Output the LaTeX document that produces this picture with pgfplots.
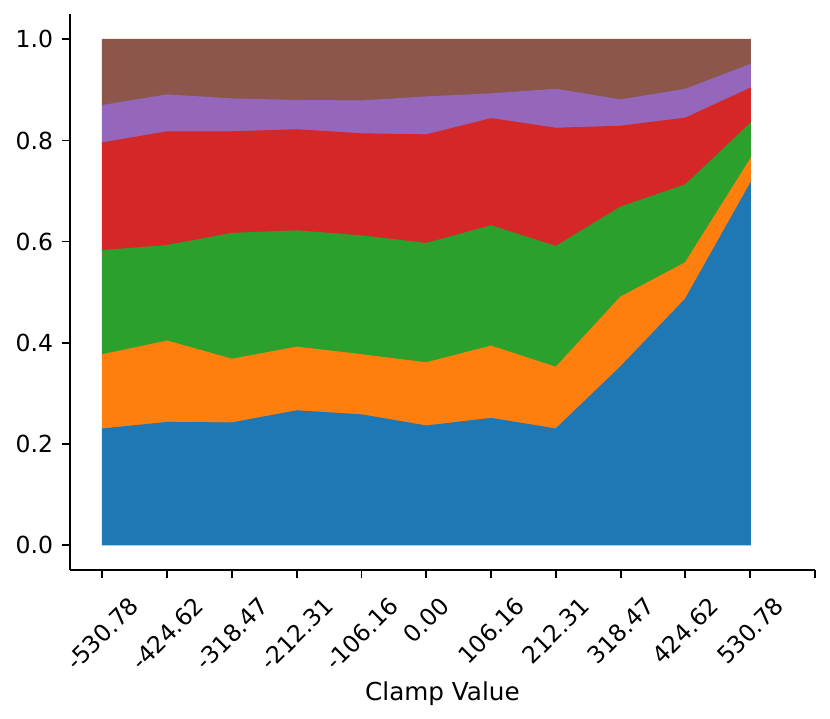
\documentclass[border=0pt]{standalone}
\usepackage{pgfplots}
\pgfplotsset{compat=1.18}
\usepackage{pgfplotstable}
\usepackage{graphicx}
\usepackage{fontspec}
\setmainfont{DejaVu Sans}
\definecolor{c1}{HTML}{1F77B4}
\definecolor{c2}{HTML}{FF7F0E}
\definecolor{c3}{HTML}{2CA02C}
\definecolor{c4}{HTML}{D62728}
\definecolor{c5}{HTML}{9467BD}
\definecolor{c6}{HTML}{8C564B}
\pgfplotstableread{
x a b c d e f
0 0.229 0.147 0.206 0.213 0.074 0.131
1 0.242 0.161 0.189 0.225 0.073 0.110
2 0.241 0.126 0.249 0.201 0.065 0.118
3 0.265 0.126 0.230 0.200 0.058 0.121
4 0.257 0.119 0.235 0.202 0.065 0.122
5 0.235 0.125 0.236 0.215 0.075 0.114
6 0.250 0.143 0.238 0.212 0.049 0.108
7 0.229 0.122 0.239 0.234 0.077 0.099
8 0.352 0.138 0.178 0.160 0.052 0.120
9 0.486 0.072 0.154 0.132 0.057 0.099
10 0.714 0.048 0.071 0.070 0.047 0.050
}\data
\begin{document}
\begin{tikzpicture}
\begin{axis}[
  at={(0,0)}, anchor=south west,
  scale only axis, width=317pt, height=236.6pt,
  xmin=-0.5, xmax=11, ymin=-0.05, ymax=1.05,
  axis x line*=bottom, axis y line*=left,
  axis line style={line width=0.8pt, -},
  tick align=outside, tick style={line width=0.8pt, black},
  major tick length=3.5pt,
  stack plots=y,
  xtick={0,1,2,3,4,5,6,7,8,9,10,11},
  xticklabels={\rotatebox{45}{-530.78},\rotatebox{45}{-424.62},\rotatebox{45}{-318.47},\rotatebox{45}{-212.31},\rotatebox{45}{-106.16},\rotatebox{45}{0.00},\rotatebox{45}{106.16},\rotatebox{45}{212.31},\rotatebox{45}{318.47},\rotatebox{45}{424.62},\rotatebox{45}{530.78},{}},
  ytick={0,0.2,0.4,0.6,0.8,1.0},
  yticklabels={0.0,0.2,0.4,0.6,0.8,1.0},
  ticklabel style={font=\fontsize{10pt}{12pt}\selectfont},
  xticklabel style={anchor=north, inner sep=0pt, yshift=-7pt},
  yticklabel style={anchor=east, inner sep=0pt, xshift=-3.5pt},
  xlabel={Clamp Value},
  xlabel style={font=\fontsize{10.5pt}{12pt}\selectfont, inner sep=0pt, yshift=-4pt},
]
\addplot[fill=c1, draw=c1, line width=0.5pt] table[x=x,y=a]{\data} \closedcycle;
\addplot[fill=c2, draw=c2, line width=0.5pt] table[x=x,y=b]{\data} \closedcycle;
\addplot[fill=c3, draw=c3, line width=0.5pt] table[x=x,y=c]{\data} \closedcycle;
\addplot[fill=c4, draw=c4, line width=0.5pt] table[x=x,y=d]{\data} \closedcycle;
\addplot[fill=c5, draw=c5, line width=0.5pt] table[x=x,y=e]{\data} \closedcycle;
\addplot[fill=c6, draw=c6, line width=0.5pt] table[x=x,y=f]{\data} \closedcycle;
\end{axis}
\pgfresetboundingbox
\path[use as bounding box] (-29.8pt,-63pt) rectangle (323.4pt,242.6pt);
\end{tikzpicture}
\end{document}
